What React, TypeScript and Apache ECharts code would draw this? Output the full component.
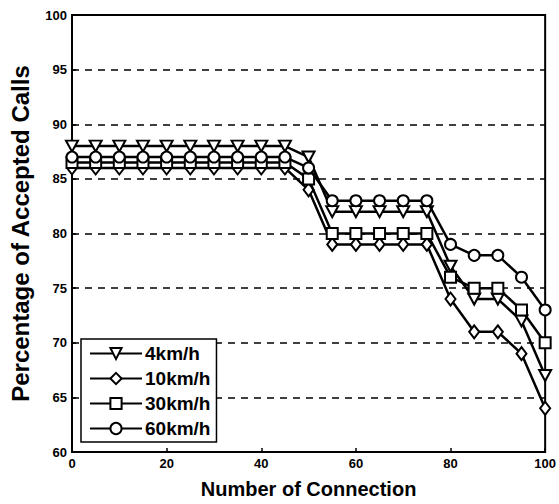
import React, { useEffect, useRef } from "react";
import * as echarts from "echarts";

const xValues = [0, 5, 10, 15, 20, 25, 30, 35, 40, 45, 50, 55, 60, 65, 70, 75, 80, 85, 90, 95, 100];
const seriesNames = ["4km/h", "10km/h", "30km/h", "60km/h"];
const v4 = [88, 88, 88, 88, 88, 88, 88, 88, 88, 88, 87, 82, 82, 82, 82, 82, 77, 74, 74, 72, 67];
const v10 = [86, 86, 86, 86, 86, 86, 86, 86, 86, 86, 84, 79, 79, 79, 79, 79, 74, 71, 71, 69, 64];
const v30 = [86.5, 86.5, 86.5, 86.5, 86.5, 86.5, 86.5, 86.5, 86.5, 86.5, 85, 80, 80, 80, 80, 80, 76, 75, 75, 73, 70];
const v60 = [87, 87, 87, 87, 87, 87, 87, 87, 87, 87, 86, 83, 83, 83, 83, 83, 79, 78, 78, 76, 73];
const seriesValues = [v4, v10, v30, v60];
const symbols = ["path://M0,0 L10,0 L5,9 Z", "diamond", "rect", "circle"];
const symbolSizes = [[12, 11], [10, 13], [11, 11], [11, 11]];

const FONT = "'Liberation Sans', Arial, Helvetica, sans-serif";

export default function App() {
  const ref = useRef<HTMLDivElement>(null);
  useEffect(() => {
    if (!ref.current) return;
    const chart = echarts.init(ref.current, undefined, { renderer: "svg" });
    chart.setOption({
      animation: false,
      backgroundColor: "#ffffff",
      textStyle: { fontFamily: FONT },
      grid: {
        left: 72,
        right: 12,
        top: 15,
        bottom: 51,
        show: true,
        borderColor: "#000",
        borderWidth: 2,
        backgroundColor: "transparent",
      },
      xAxis: {
        type: "value",
        min: 0,
        max: 100,
        interval: 20,
        name: "Number of Connection",
        nameLocation: "middle",
        nameGap: 27,
        nameTextStyle: { fontFamily: FONT, fontWeight: "bold", fontSize: 20, color: "#000" },
        axisLine: { show: true, lineStyle: { color: "#000", width: 2 } },
        axisTick: { show: true, inside: true, length: 4, lineStyle: { color: "#000", width: 1.5 } },
        axisLabel: { fontFamily: FONT, fontWeight: "bold", fontSize: 13, color: "#000", margin: 5 },
        splitLine: { show: false },
      },
      yAxis: {
        type: "value",
        min: 60,
        max: 100,
        interval: 5,
        name: "Percentage of Accepted Calls",
        nameLocation: "middle",
        nameGap: 40,
        nameTextStyle: { fontFamily: FONT, fontWeight: "bold", fontSize: 24, color: "#000" },
        axisLine: { show: true, lineStyle: { color: "#000", width: 2 } },
        axisTick: { show: true, inside: true, length: 4, lineStyle: { color: "#000", width: 1.5 } },
        axisLabel: { fontFamily: FONT, fontWeight: "bold", fontSize: 13, color: "#000", margin: 5 },
        splitLine: { show: true, lineStyle: { color: "#000", width: 1.5, type: [7, 6] } },
      },
      legend: {
        show: true,
        orient: "vertical",
        left: 81,
        top: 339,
        padding: [5, 6, 4, 8],
        itemGap: 6,
        itemWidth: 52,
        itemHeight: 14,
        borderColor: "#000",
        borderWidth: 1.5,
        backgroundColor: "#ffffff",
        textStyle: { fontFamily: FONT, fontWeight: "bold", fontSize: 19, color: "#000", padding: [0, 0, 0, -2] },
        data: seriesNames,
      },
      series: seriesNames.map((name, i) => ({
        name,
        type: "line",
        data: xValues.map((x, j) => [x, seriesValues[i][j]]),
        symbol: symbols[i],
        symbolSize: symbolSizes[i],
        showAllSymbol: true,
        lineStyle: { color: "#000", width: 2.5 },
        itemStyle: { color: "#ffffff", borderColor: "#000", borderWidth: 2 },
        emphasis: { disabled: true },
        z: 3 + i,
      })),
    });
    return () => chart.dispose();
  }, []);
  return (
    <div
      ref={ref}
      style={{ position: "fixed", left: 0, top: 0, width: 559, height: 504, background: "#fff" }}
    />
  );
}
